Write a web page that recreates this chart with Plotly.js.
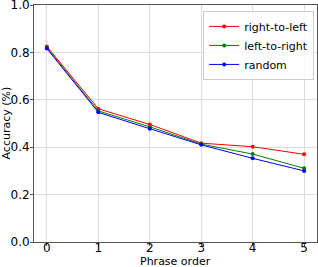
<!DOCTYPE html>
<html><head><meta charset="utf-8">
<script src="https://cdn.plot.ly/plotly-3.0.1.min.js"></script>
<style>html,body{margin:0;padding:0;background:#fff}#c{width:318px;height:267px}</style>
</head><body><div id="c"></div>
<script>
const phraseOrder = [0, 1, 2, 3, 4, 5];
const rightToLeft = [0.825, 0.562, 0.496, 0.417, 0.402, 0.370];
const leftToRight = [0.820, 0.553, 0.486, 0.413, 0.371, 0.311];
const randomOrder = [0.816, 0.547, 0.478, 0.410, 0.353, 0.300];
const seriesNames = ['right-to-left', 'left-to-right', 'random'];
const colors = ['#ff0000', '#008000', '#0000ff'];
const yTicks = [0, 0.2, 0.4, 0.6, 0.8, 1.0];
const yTickText = ['0.0', '0.2', '0.4', '0.6', '0.8', '1.0'];
const xTitle = 'Phrase order';
const yTitle = 'Accuracy (%)';

const data = [rightToLeft, leftToRight, randomOrder].map((ys, i) => ({
  x: phraseOrder, y: ys, name: seriesNames[i], type: 'scatter', mode: 'lines+markers',
  line: {color: colors[i], width: 1}, marker: {color: colors[i], size: 4}
}));

const font = {family: 'DejaVu Sans', size: 11, color: '#000'};
const tickFont = {family: 'DejaVu Sans', size: 12, color: '#000'};
const layout = {
  width: 318, height: 267,
  margin: {l: 34, r: 1, t: 5, b: 25},
  paper_bgcolor: '#fff', plot_bgcolor: '#fff',
  font: font,
  showlegend: true,
  legend: {x: 0.99, y: 0.975, xanchor: 'right', yanchor: 'top', bgcolor: 'rgba(255,255,255,0.8)',
    bordercolor: '#cccccc', borderwidth: 1, font: {family: 'DejaVu Sans', size: 11}, tracegroupgap: 0},
  xaxis: {range: [-0.25, 5.25], tickvals: phraseOrder, ticks: 'outside', ticklen: 3, tickcolor: '#555',
    tickfont: tickFont, ticklabelstandoff: -8, ticklabeloverflow: 'allow',
    showline: true, linecolor: '#555', linewidth: 1, mirror: true, zeroline: false,
    showgrid: true, gridcolor: '#dddddd', gridwidth: 1},
  yaxis: {range: [0, 1.0], tickvals: yTicks, ticktext: yTickText, ticks: 'outside', ticklen: 3, tickcolor: '#555',
    tickfont: tickFont, ticklabelstandoff: -2, ticklabeloverflow: 'allow',
    showline: true, linecolor: '#555', linewidth: 1, mirror: true, zeroline: false,
    showgrid: true, gridcolor: '#dddddd', gridwidth: 1},
  annotations: [
    {text: xTitle, xref: 'paper', yref: 'paper', x: 0.5, y: 0, yanchor: 'middle', yshift: -19,
      showarrow: false, font: font},
    {text: yTitle, xref: 'paper', yref: 'paper', x: 0, y: 0.5, xanchor: 'center', xshift: -28,
      textangle: -90, showarrow: false, font: font}
  ]
};
Plotly.newPlot('c', data, layout, {displayModeBar: false, staticPlot: true});
</script></body></html>
